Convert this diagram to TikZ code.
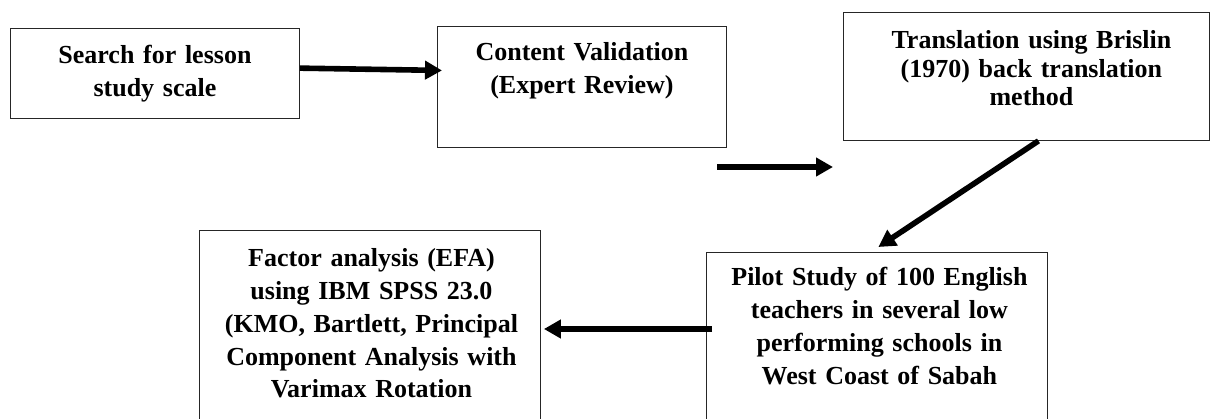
\documentclass[tikz,border=0pt]{standalone}
\usepackage{fontspec}
\setmainfont{Liberation Serif}
\usetikzlibrary{arrows.meta}
\begin{document}
\begin{tikzpicture}[x=1pt,y=-1pt,
  stepbox/.style={draw=black!85, line width=0.9pt, inner sep=0pt, anchor=north west},
  steptext/.style={text width=380pt, align=center, anchor=base, inner sep=0pt,
    font=\bfseries\fontsize{26}{32.7}\selectfont},
  flow/.style={line width=5.6pt, -{Triangle[length=17pt,width=18pt]}}
]
\useasboundingbox (0,0) rectangle (1211,419);
\clip (0,0) rectangle (1211,419);

% boxes (the two lower ones run past the bottom edge)
\node[stepbox, minimum width=289pt, minimum height=90pt]  (b1) at (10,28)  {};
\node[stepbox, minimum width=289pt, minimum height=121pt] (b2) at (437,26) {};
\node[stepbox, minimum width=366pt, minimum height=128pt] (b3) at (843,12) {};
\node[stepbox, minimum width=341pt, minimum height=220pt] (b4) at (706,252) {};
\node[stepbox, minimum width=341pt, minimum height=240pt] (b5) at (199,230) {};

% box texts
\node[steptext] (t1) at ([yshift=-36pt]b1.north) {Search for lesson\\study scale};
\node[steptext] (t2) at ([yshift=-35pt]b2.north) {Content Validation\\(Expert Review)};
\node[steptext, font=\bfseries\fontsize{26}{28.5}\selectfont] (t3) at ([xshift=5pt,yshift=-37pt]b3.north)
  {Translation using Brislin\\(1970) back translation\\method};
\node[steptext] (t4) at ([xshift=2.5pt,yshift=-34pt]b4.north)
  {Pilot Study of 100 English\\teachers in several low\\performing schools in\\West Coast of Sabah};
\node[steptext] (t5) at ([xshift=1.5pt,yshift=-37pt]b5.north)
  {Factor analysis (EFA)\\using IBM SPSS 23.0\\(KMO, Bartlett, Principal\\Component Analysis with\\Varimax Rotation};

% connectors
\draw[flow] ([yshift=5.3pt]b1.east) -- ([xshift=5pt,yshift=16.5pt]b2.west);
\coordinate (s1) at (717,167);
\coordinate (s2) at (833,167);
\draw[flow] (s1) -- (s2);
\draw[flow] ([xshift=12pt]b3.south) -- ([xshift=1.5pt,yshift=5pt]b4.north);
\draw[flow] ([xshift=6pt,yshift=-77pt]b4.north west) -- ([xshift=3pt,yshift=-99pt]b5.north east);
\end{tikzpicture}
\end{document}
